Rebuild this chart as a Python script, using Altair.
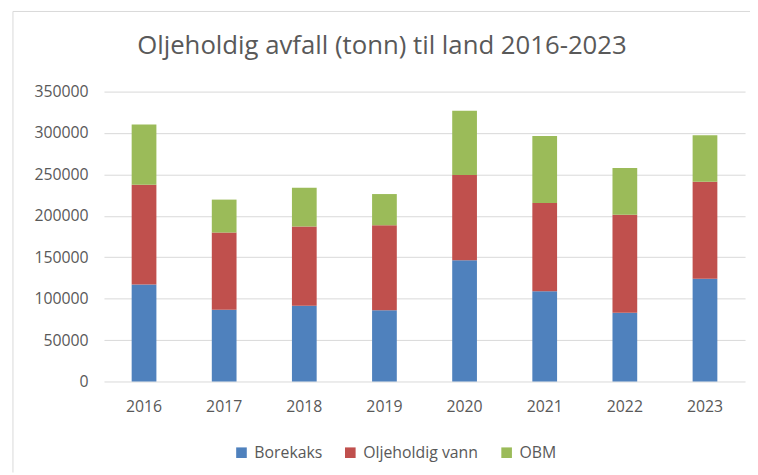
import altair as alt
import pandas as pd

years = ["2016", "2017", "2018", "2019", "2020", "2021", "2022", "2023"]
borekaks = [117000, 86700, 91500, 85900, 146400, 109000, 83100, 124100]
oljeholdig_vann = [120500, 93100, 95500, 102700, 103000, 106600, 118200, 117000]
obm = [72800, 39800, 46900, 37700, 77600, 80800, 56500, 56100]
series = ["Borekaks", "Oljeholdig vann", "OBM"]
colors = ["#4F81BD", "#C0504D", "#9BBB59"]
y_ticks = [0, 50000, 100000, 150000, 200000, 250000, 300000, 350000]
title_text = ["Oljeholdig avfall (tonn) til land 2016-2023"]

rows = []
for i, yr in enumerate(years):
    for k, (name, vals) in enumerate(zip(series, [borekaks, oljeholdig_vann, obm])):
        rows.append({"year": yr, "serie": name, "value": vals[i], "ord": k})
df = pd.DataFrame(rows)
tdf = pd.DataFrame({"t": title_text})

FONT = "Open Sans"
GREY = "#595959"

bars = alt.Chart(df).mark_bar(size=25).encode(
    x=alt.X("year:N", sort=years, title=None,
            scale=alt.Scale(paddingInner=0.69, paddingOuter=0.345),
            axis=alt.Axis(labelAngle=0, ticks=False, domain=False, labelPadding=17,
                          labelFontSize=16, labelColor=GREY, labelFont=FONT)),
    y=alt.Y("value:Q", stack="zero", title=None,
            scale=alt.Scale(domain=[0, 350000], nice=False),
            axis=alt.Axis(values=y_ticks, format="d", ticks=False, domain=False,
                          labelPadding=16, labelFontSize=16, labelColor=GREY, labelFont=FONT,
                          gridColor="#d9d9d9", gridWidth=1)),
    color=alt.Color("serie:N", sort=series,
                    scale=alt.Scale(domain=series, range=colors),
                    legend=alt.Legend(title=None, orient="none", direction="horizontal",
                                      legendX=131, legendY=357, symbolType="square",
                                      symbolSize=115, symbolStrokeWidth=0,
                                      labelFontSize=16, labelColor=GREY, labelFont=FONT,
                                      columnPadding=20, symbolOffset=0, labelOffset=5)),
    order=alt.Order("ord:Q", sort="ascending"),
)

title = alt.Chart(tdf).mark_text(fontSize=26, font=FONT, color=GREY, align="center",
                                 baseline="middle", clip=False).encode(
    text="t:N", x=alt.value(281), y=alt.value(-46)
)

border_left = alt.Chart(tdf).mark_rule(color="#d9d9d9", strokeWidth=1, clip=False).encode(
    x=alt.value(-92), y=alt.value(-81), y2=alt.value(385)
)
border_top = alt.Chart(tdf).mark_rule(color="#d9d9d9", strokeWidth=1, clip=False).encode(
    x=alt.value(-92), x2=alt.value(660), y=alt.value(-81)
)

chart = alt.layer(bars, title, border_left, border_top).properties(
    width=648, height=293,
    autosize=alt.AutoSizeParams(type="none"),
    padding={"left": 97, "top": 82, "right": 5, "bottom": 90},
).configure(background="white").configure_view(stroke=None)

chart.save("out.html", embed_options={"renderer": "svg", "actions": False})
